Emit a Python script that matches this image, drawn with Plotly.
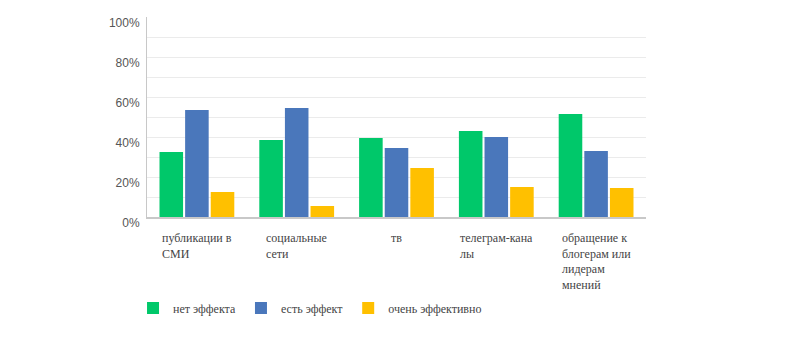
import plotly.graph_objects as go

categories = ["публикации в<br>СМИ", "социальные<br>сети", "тв", "телеграм-кана<br>лы",
              "обращение к<br>блогерам или<br>лидерам<br>мнений"]
series_names = ["нет эффекта", "есть эффект", "очень эффективно"]
no_effect = [32.5, 38.5, 39.5, 43, 51.5]
has_effect = [53.5, 54.5, 34.5, 40, 33]
very_effective = [12.5, 5.5, 24.5, 15, 14.5]
colors = ["#00C86A", "#4A77BB", "#FFC000"]
y_tick_vals = [0, 20, 40, 60, 80, 100]
y_tick_text = ["0%", "20%", "40%", "60%", "80%", "100%"]
grid_vals = [10, 20, 30, 40, 50, 60, 70, 80, 90]

SERIF = "Liberation Serif, Times New Roman, serif"

fig = go.Figure()
for name, vals, c in zip(series_names, [no_effect, has_effect, very_effective], colors):
    fig.add_trace(go.Bar(x=list(range(len(categories))), y=vals, name=name,
                         marker=dict(color=c, line=dict(width=0))))

for i, cat in enumerate(categories):
    fig.add_annotation(x=i, y=0, xref="x", yref="paper", text=cat, showarrow=False,
                       xanchor="center", yanchor="top", align="left", yshift=-12,
                       font=dict(family=SERIF, size=12, color="#444444"))

fig.update_layout(
    width=801, height=348,
    margin=dict(l=147, r=155, t=17, b=131),
    paper_bgcolor="white", plot_bgcolor="white",
    barmode="group", bargap=0.23, bargroupgap=0.08,
    showlegend=True,
    legend=dict(orientation="h", x=-0.028, xanchor="left", y=-0.455, yanchor="middle",
                font=dict(family=SERIF, size=12, color="#444444"),
                traceorder="normal"),
    xaxis=dict(range=[-0.5, 4.5], showticklabels=False, showgrid=False, zeroline=False,
               showline=True, linecolor="#c8c8c8", linewidth=2, ticks="", automargin=False),
    yaxis=dict(range=[0, 100], tickvals=y_tick_vals, ticktext=y_tick_text,
               showgrid=False, zeroline=False, showline=True, linecolor="#c8c8c8",
               linewidth=1, ticks="", ticklabelshift=6, automargin=False,
               ticklabelstandoff=4,
               tickfont=dict(family="Liberation Sans", size=12, color="#555555"),
               minor=dict(tickvals=grid_vals, showgrid=True, gridcolor="#ebebeb", gridwidth=1, ticks="")),
)

fig.write_html("out.html")
